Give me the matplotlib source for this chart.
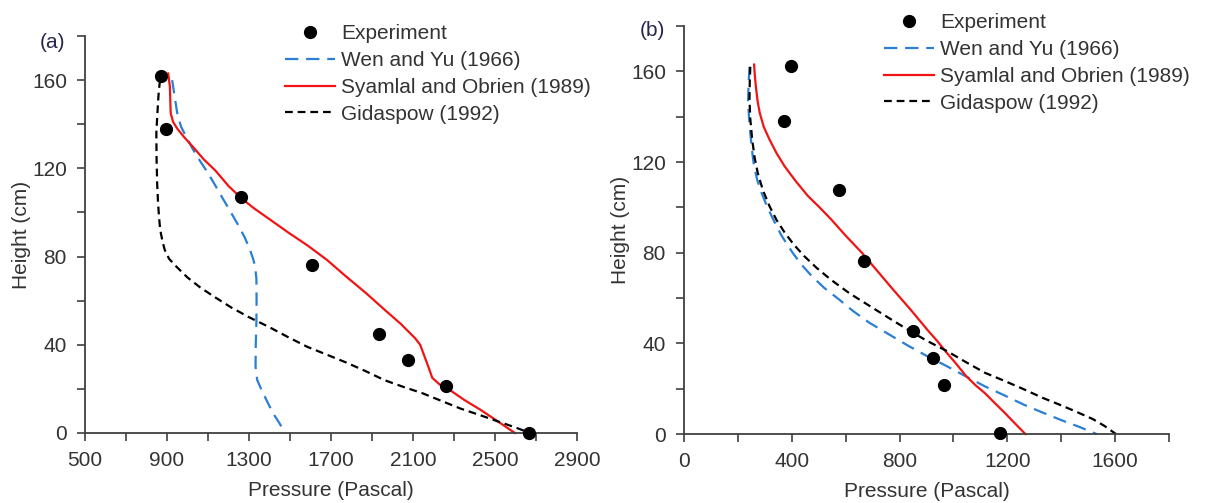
import numpy as np
import matplotlib
matplotlib.use("Agg")
import matplotlib.pyplot as plt

plt.rcParams['font.family'] = ['Liberation Sans', 'DejaVu Sans']

# ---- panel (a) data ----
exp_a_p = [870, 893, 1262, 1608, 1932, 2074, 2263, 2668]
exp_a_h = [162, 138, 107, 76, 45, 33, 21.5, 0]

syam_a_p = [906, 914, 918, 930, 950, 985, 1024, 1080, 1136, 1200, 1268, 1330, 1399,
            1490, 1586, 1680, 1773, 1870, 1960, 2040, 2110, 2135, 2155, 2175, 2194,
            2230, 2278, 2350, 2428, 2510, 2597]
syam_a_h = [163, 157, 145, 141, 138, 134, 130, 124, 119, 112, 106, 101.5, 97,
            91, 85, 78.5, 71, 63.5, 56, 49.5, 43, 40, 35, 30, 25,
            22, 19.6, 15, 10.6, 5.5, 0]

wen_a_p = [925, 935, 950, 968, 995, 1024, 1060, 1099, 1137, 1174, 1212, 1249, 1280, 1305,
           1320, 1330, 1336, 1337, 1336, 1333, 1332, 1340, 1361, 1390, 1417, 1448, 1477]
wen_a_h = [160, 154, 145, 139, 134, 129, 123.5, 118, 112, 106, 100, 94, 88.5, 83,
           79, 75.5, 70, 60, 50, 40, 30, 24, 19.6, 14, 9, 4.5, 0]

gid_a_p = [866, 860, 857, 852, 848, 849, 852, 856, 861, 865, 870, 879, 889, 910, 945, 1000,
           1062, 1135, 1212, 1300, 1399, 1490, 1586, 1680, 1773, 1870, 1960, 2050, 2147,
           2240, 2334, 2430, 2522, 2600, 2671]
gid_a_h = [160, 155, 151, 143, 136, 125, 113, 105, 98, 94, 90.6, 86.5, 83, 79, 75.5, 70.5,
           66, 61.5, 57, 52.5, 48, 43.5, 39, 35.5, 32, 28, 24, 21, 18,
           14.5, 11, 8, 5, 2.5, 0]

# ---- panel (b) data ----
exp_b_p = [396, 371, 574, 669, 849, 923, 964, 1174]
exp_b_h = [162.5, 138, 107.6, 76.3, 45.5, 33.5, 21.6, 0.5]

syam_b_p = [260, 263, 267, 273, 281, 296, 317, 343, 374, 415, 460, 503, 546, 600, 660,
            717, 774, 840, 903, 940, 974, 1010, 1046, 1082, 1117, 1153, 1189, 1228, 1267]
syam_b_h = [163, 158, 153, 147, 141.7, 135.5, 130, 124, 118, 111.5, 105, 100, 94.7, 87.5, 80,
            72, 64, 55, 46, 41, 36, 31, 25.7, 21.5, 18, 13.7, 9.5, 4.7, 0]

wen_b_p = [243, 240, 238, 241, 246, 252, 260, 272, 289, 308, 331, 362, 403, 436, 474,
           520, 574, 628, 689, 760, 831, 900, 974, 1045, 1117, 1190, 1260, 1330, 1403, 1470, 1531]
wen_b_h = [162, 155, 147.5, 140, 133, 125.5, 118, 112, 106, 100.5, 94.7, 87.5, 80, 74.7, 69.7,
           64.5, 59.5, 54.2, 49, 44, 39, 34.5, 30, 25.5, 21, 17, 13, 9.5, 6, 3, 0]

gid_b_p = [246, 244, 243, 246, 253, 262, 274, 293, 317, 343, 374, 408, 446, 493, 546,
           615, 689, 760, 831, 900, 974, 1045, 1117, 1190, 1260, 1330, 1403, 1460, 1517,
           1560, 1603]
gid_b_h = [162, 155, 147.5, 139, 130, 122, 115, 107.5, 100.6, 94.5, 88.8, 83.5, 78.5, 73.2, 68,
           62, 56.5, 51.2, 46, 41.2, 36.7, 31.8, 27, 23.4, 19.8, 16, 12.5, 9.6, 6.6,
           3.6, 0]

labels = ['Experiment', 'Wen and Yu (1966)', 'Syamlal and Obrien (1989)', 'Gidaspow (1992)']
blue = '#2a7fd4'
red = '#f01414'
axis_col = '#404040'
text_col = '#333333'
fs = 15


def draw_panel(ax, exp_p, exp_h, wen_p, wen_h, syam_p, syam_h, gid_p, gid_h,
               xlim, xstep, legend_xy):
    h_exp, = ax.plot(exp_p, exp_h, 'o', color='black', markersize=8.5, clip_on=False, zorder=5)
    h_wen, = ax.plot(wen_p, wen_h, color=blue, lw=1.6, dashes=(6, 3.5), clip_on=False)
    h_syam, = ax.plot(syam_p, syam_h, color=red, lw=1.6, clip_on=False)
    h_gid, = ax.plot(gid_p, gid_h, color='black', lw=1.6, dashes=(3.5, 2.2), clip_on=False)

    ax.set_xlim(*xlim)
    ax.set_ylim(0, 180)
    xt = np.arange(xlim[0], xlim[1] + 1, xstep / 2)
    ax.set_xticks(xt)
    ax.set_xticklabels([f'{int(v)}' if (v - xlim[0]) % xstep == 0 else '' for v in xt])
    yt = np.arange(0, 181, 20)
    ax.set_yticks(yt)
    ax.set_yticklabels([f'{v}' if v % 40 == 0 and v < 180 else '' for v in yt])

    for s in ['top', 'right']:
        ax.spines[s].set_visible(False)
    for s in ['left', 'bottom']:
        ax.spines[s].set_color(axis_col)
        ax.spines[s].set_linewidth(1.3)
    ax.tick_params(direction='out', length=6, width=1.2, color=axis_col,
                   labelsize=fs, labelcolor=text_col)
    ax.tick_params(axis='x', pad=7)
    ax.tick_params(axis='y', pad=7)
    ax.set_xlabel('Pressure (Pascal)', fontsize=fs, color=text_col, labelpad=8)
    ax.set_ylabel('Height (cm)', fontsize=fs, color=text_col, labelpad=1)

    fig.legend([h_exp, h_wen, h_syam, h_gid], labels, loc='upper left',
               bbox_to_anchor=legend_xy, bbox_transform=fig.transFigure,
               frameon=False, fontsize=fs, handlelength=2.4, handletextpad=0.29,
               labelspacing=0.38, borderpad=0, borderaxespad=0, labelcolor=text_col)


fig = plt.figure(figsize=(12.06, 5.03), dpi=100)
ax_a = fig.add_axes([85 / 1206, 1 - 433 / 503, (577 - 85) / 1206, (433 - 36) / 503])
ax_b = fig.add_axes([684 / 1206, 1 - 434 / 503, (1169 - 684) / 1206, (434 - 26) / 503])

draw_panel(ax_a, exp_a_p, exp_a_h, wen_a_p, wen_a_h, syam_a_p, syam_a_h, gid_a_p, gid_a_h,
           (500, 2900), 400, (285 / 1206, 1 - 24 / 503))
draw_panel(ax_b, exp_b_p, exp_b_h, wen_b_p, wen_b_h, syam_b_p, syam_b_h, gid_b_p, gid_b_h,
           (0, 1800), 400, (884 / 1206, 1 - 13 / 503))
# no label at 1800 on panel (b)
ax_b.set_xticklabels(['0', '', '400', '', '800', '', '1200', '', '1600', ''])

fig.text(40 / 1206, 1 - 42 / 503, '(a)', fontsize=fs, color='#262650', va='center')
fig.text(640 / 1206, 1 - 30 / 503, '(b)', fontsize=fs, color='#262650', va='center')

fig.savefig('out.png', dpi=100)
